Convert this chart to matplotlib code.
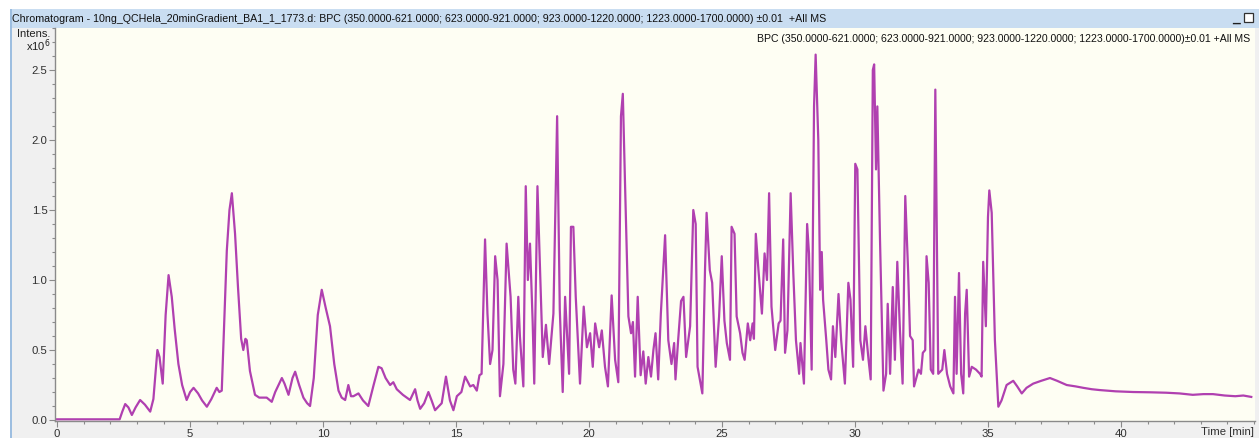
import matplotlib
matplotlib.use("Agg")
import matplotlib.pyplot as plt
from matplotlib.patches import Rectangle
from matplotlib.ticker import MultipleLocator, FormatStrFormatter

# Base peak chromatogram: retention time (min) and intensity (x10^6 counts)
time_min = [
    0.00, 2.35, 2.45, 2.56, 2.68, 2.81, 2.95, 3.12, 3.30, 3.50, 3.62, 3.77, 3.85, 3.97,
    4.08, 4.19, 4.31, 4.42, 4.56, 4.70, 4.87, 5.00, 5.13, 5.30, 5.45, 5.63, 5.80, 6.00,
    6.10, 6.19, 6.30, 6.38, 6.48, 6.57, 6.62, 6.69, 6.80, 6.92, 7.00, 7.08, 7.13, 7.25,
    7.44, 7.60, 7.88, 8.07, 8.20, 8.45, 8.55, 8.70, 8.85, 8.95, 9.10, 9.26, 9.40, 9.51,
    9.65, 9.80, 9.95, 10.10, 10.26, 10.42, 10.58, 10.70, 10.83, 10.95, 11.05, 11.14,
    11.33, 11.50, 11.70, 11.90, 12.08, 12.20, 12.35, 12.52, 12.64, 12.77, 13.00, 13.27,
    13.46, 13.55, 13.65, 13.80, 13.96, 14.08, 14.21, 14.46, 14.62, 14.77, 14.90, 15.03,
    15.20, 15.34, 15.53, 15.65, 15.78, 15.88, 15.96, 16.09, 16.18, 16.28, 16.37, 16.47,
    16.56, 16.65, 16.78, 16.90, 17.05, 17.15, 17.23, 17.34, 17.40, 17.53, 17.62, 17.70,
    17.78, 17.88, 17.94, 18.06, 18.18, 18.26, 18.38, 18.50, 18.66, 18.80, 18.90, 19.01,
    19.10, 19.25, 19.32, 19.41, 19.50, 19.66, 19.80, 19.92, 20.04, 20.14, 20.23, 20.38,
    20.48, 20.60, 20.71, 20.85, 20.98, 21.10, 21.20, 21.27, 21.35, 21.48, 21.58, 21.65,
    21.73, 21.83, 21.94, 22.04, 22.13, 22.23, 22.33, 22.42, 22.50, 22.60, 22.70, 22.86,
    22.98, 23.10, 23.20, 23.25, 23.35, 23.46, 23.55, 23.65, 23.80, 23.92, 24.01, 24.08,
    24.26, 24.36, 24.42, 24.54, 24.63, 24.76, 24.89, 24.99, 25.09, 25.18, 25.30, 25.36,
    25.47, 25.55, 25.68, 25.77, 25.85, 25.97, 26.06, 26.15, 26.20, 26.27, 26.37, 26.50,
    26.60, 26.69, 26.77, 26.86, 27.00, 27.13, 27.20, 27.30, 27.37, 27.46, 27.58, 27.68,
    27.78, 27.90, 27.95, 28.08, 28.20, 28.27, 28.37, 28.46, 28.52, 28.62, 28.69, 28.75,
    28.80, 28.92, 29.00, 29.10, 29.17, 29.26, 29.38, 29.48, 29.62, 29.75, 29.83, 29.93,
    30.01, 30.09, 30.20, 30.30, 30.39, 30.51, 30.59, 30.67, 30.72, 30.79, 30.84, 30.94,
    31.07, 31.17, 31.23, 31.32, 31.42, 31.50, 31.59, 31.69, 31.79, 31.89, 32.00, 32.07,
    32.17, 32.22, 32.39, 32.48, 32.55, 32.64, 32.69, 32.77, 32.85, 32.94, 33.02, 33.13,
    33.28, 33.36, 33.46, 33.58, 33.70, 33.76, 33.82, 33.91, 33.99, 34.07, 34.14, 34.20,
    34.29, 34.39, 34.55, 34.70, 34.76, 34.82, 34.92, 35.00, 35.05, 35.14, 35.26, 35.39,
    35.51, 35.70, 35.95, 36.10, 36.27, 36.45, 36.70, 37.00, 37.33, 37.60, 37.96, 38.30,
    38.58, 38.90, 39.20, 39.80, 40.46, 41.10, 41.70, 42.20, 42.70, 43.10, 43.46, 43.90,
    44.30, 44.60, 44.90,
]
intensity_e6 = [
    0.005, 0.005, 0.06, 0.114, 0.09, 0.036, 0.09, 0.143, 0.11, 0.06, 0.15, 0.50, 0.45, 0.26,
    0.75, 1.035, 0.88, 0.65, 0.40, 0.25, 0.143, 0.20, 0.23, 0.19, 0.14, 0.095, 0.15, 0.23,
    0.20, 0.21, 0.80, 1.21, 1.50, 1.62, 1.50, 1.33, 0.95, 0.58, 0.50, 0.58, 0.57, 0.35,
    0.18, 0.16, 0.16, 0.13, 0.20, 0.30, 0.26, 0.18, 0.30, 0.345, 0.25, 0.16, 0.12, 0.10,
    0.30, 0.75, 0.93, 0.80, 0.67, 0.40, 0.21, 0.16, 0.143, 0.25, 0.17, 0.17,
    0.19, 0.14, 0.10, 0.25, 0.38, 0.37, 0.30, 0.25, 0.27, 0.22, 0.18, 0.143,
    0.22, 0.14, 0.08, 0.12, 0.20, 0.14, 0.07, 0.12, 0.31, 0.14, 0.07, 0.17,
    0.20, 0.31, 0.24, 0.25, 0.21, 0.32, 0.33, 1.29, 0.76, 0.40, 0.50, 1.17,
    1.00, 0.17, 0.40, 1.26, 0.88, 0.36, 0.26, 0.88, 0.60, 0.24, 1.67, 1.00,
    1.26, 0.70, 0.26, 1.67, 0.95, 0.45, 0.68, 0.40, 0.76, 2.17, 0.79, 0.20,
    0.88, 0.33, 1.38, 1.38, 0.88, 0.26, 0.81, 0.52, 0.62, 0.38, 0.69, 0.52,
    0.64, 0.38, 0.24, 0.89, 0.43, 0.27, 2.17, 2.33, 1.71, 0.74, 0.62, 0.70,
    0.31, 0.88, 0.32, 0.49, 0.26, 0.45, 0.31, 0.50, 0.62, 0.29, 0.76, 1.32,
    0.57, 0.40, 0.55, 0.29, 0.57, 0.85, 0.88, 0.45, 0.67, 1.50, 1.40, 0.38,
    0.19, 1.07, 1.48, 1.07, 0.98, 0.38, 0.74, 1.17, 0.71, 0.55, 0.43, 1.38,
    1.33, 0.74, 0.62, 0.48, 0.43, 0.69, 0.57, 0.69, 0.58, 1.33, 1.07, 0.76,
    1.19, 1.00, 1.62, 0.81, 0.50, 0.69, 0.71, 1.29, 0.48, 0.64, 1.62, 1.05,
    0.57, 0.33, 0.55, 0.26, 1.40, 1.19, 0.36, 2.24, 2.61, 2.00, 0.93, 1.20,
    0.86, 0.57, 0.36, 0.29, 0.67, 0.45, 0.90, 0.57, 0.26, 0.98, 0.86, 0.38,
    1.83, 1.79, 0.57, 0.43, 0.67, 0.43, 0.29, 2.50, 2.54, 1.79, 2.24, 1.29,
    0.21, 0.33, 0.83, 0.33, 0.95, 0.43, 1.13, 0.64, 0.26, 1.60, 1.05, 0.60,
    0.57, 0.24, 0.36, 0.33, 0.48, 0.50, 1.17, 0.98, 0.36, 0.33, 2.36, 0.33,
    0.36, 0.50, 0.33, 0.24, 0.19, 0.88, 0.33, 1.05, 0.33, 0.19, 0.76, 0.93,
    0.31, 0.38, 0.36, 0.33, 0.31, 1.13, 0.67, 1.45, 1.64, 1.48, 0.57, 0.095,
    0.14, 0.25, 0.28, 0.24, 0.19, 0.23, 0.26, 0.28, 0.30, 0.28, 0.25, 0.24,
    0.23, 0.22, 0.214, 0.205, 0.20, 0.198, 0.195, 0.19, 0.18, 0.185, 0.185, 0.175,
    0.17, 0.175, 0.165,
]

title_text = ("Chromatogram - 10ng_QCHela_20minGradient_BA1_1_1773.d: BPC (350.0000-621.0000; "
              "623.0000-921.0000; 923.0000-1220.0000; 1223.0000-1700.0000) \u00b10.01  +All MS")
trace_text = ("BPC (350.0000-621.0000; 623.0000-921.0000; 923.0000-1220.0000; "
              "1223.0000-1700.0000)\u00b10.01 +All MS")

plt.rcParams["font.family"] = ["Liberation Sans", "DejaVu Sans"]

W, H = 1259, 438
fig = plt.figure(figsize=(W / 100, H / 100), dpi=100)
fig.patch.set_facecolor("white")


def fx(px):
    return px / W


def fy(py):
    return 1 - py / H


def frect(x0, y0, x1, y1, z=-10, **kw):
    fig.add_artist(Rectangle((fx(x0), fy(y1)), fx(x1) - fx(x0), fy(y0) - fy(y1),
                             transform=fig.transFigure, zorder=z, **kw))


# window chrome
frect(12, 28, W, H, facecolor="#F0F0F0", edgecolor="none")
frect(10, 9, W, 28, facecolor="#C9DDF1", edgecolor="none")
frect(10, 9, 12, H, facecolor="#9DBEE0", edgecolor="none")
fig.text(fx(12), fy(18.5), title_text, fontsize=7.7, color="#101010", va="center", ha="left")
fig.text(fx(1236), fy(18), "_", fontsize=10, color="#202020", va="center", ha="center",
         fontweight="bold")
frect(1244, 13, 1253, 22, z=5, facecolor="white", edgecolor="#303030", linewidth=0.9)

# plot area
ax = fig.add_axes([fx(55), fy(421), fx(1255) - fx(55), fy(28) - fy(421)])
ax.set_facecolor("#FEFEF3")
ax.plot(time_min, intensity_e6, color="#B040B0", linewidth=1.6, solid_joinstyle="round")

ax.set_xlim(-0.08, 45.04)
ax.set_ylim(-0.007, 2.8)
ax.xaxis.set_minor_locator(MultipleLocator(1))
ax.yaxis.set_major_locator(MultipleLocator(0.5))
ax.yaxis.set_minor_locator(MultipleLocator(0.1))
ax.yaxis.set_major_formatter(FormatStrFormatter("%.1f"))
ax.set_xticks([0, 5, 10, 15, 20, 25, 30, 35, 40])
for s in ("top", "right"):
    ax.spines[s].set_visible(False)
for s in ("left", "bottom"):
    ax.spines[s].set_color("#8A8A8A")
    ax.spines[s].set_linewidth(1.0)
ax.tick_params(which="major", length=4, width=0.8, color="#8A8A8A", labelsize=8.2,
               labelcolor="#303030", pad=1.5)
ax.tick_params(which="minor", length=2.5, width=0.8, color="#8A8A8A")

ax.text(0.996, 0.985, trace_text, transform=ax.transAxes, ha="right", va="top",
        fontsize=7.6, color="#101010")

fig.text(fx(34), fy(34), "Intens.", fontsize=8.0, color="#202020", ha="center", va="center")
fig.text(fx(50), fy(46), r"x10$^{6}$", fontsize=8.0, color="#202020", ha="right", va="center")
fig.text(fx(1254), fy(432), "Time [min]", fontsize=8.2, color="#303030", ha="right", va="center")

fig.savefig("out.png", dpi=100, facecolor=fig.get_facecolor())
